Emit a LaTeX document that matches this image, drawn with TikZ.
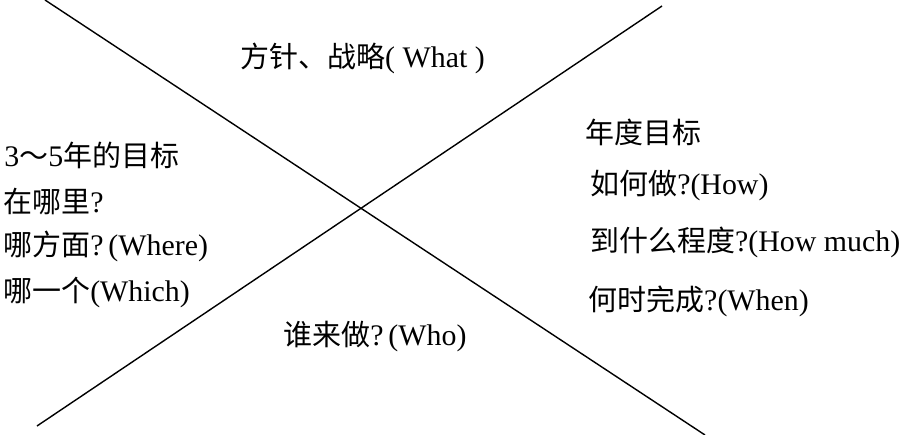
\documentclass[tikz,border=0pt]{standalone}
\usepackage{fontspec}
\setmainfont{Liberation Serif}
\newfontfamily\cjk[Scale=0.97]{Noto Sans CJK SC}
\newcommand{\zh}[1]{{\cjk #1}}
\usetikzlibrary{positioning}

\begin{document}
\begin{tikzpicture}[
  x=0.02cm, y=-0.02cm,
  font=\fontsize{17}{20}\selectfont,
  txt/.style={anchor=west,inner sep=0pt},
  cut/.style={line width=0.8pt}
]
  \useasboundingbox (0,0) rectangle (909,435);
  % the two crossing lines
  \coordinate (d1) at (45,0);
  \coordinate (d2) at (705,435);
  \coordinate (u1) at (37,426);
  \coordinate (u2) at (662,6);
  \draw[cut] (d1) -- (d2);
  \draw[cut] (u1) -- (u2);
  % top
  \node[txt] (what) at (240,58) {\zh{方针、战略}( What )};
  % left
  \node[txt] (long) at (4,155) {3\zh{～}5\zh{年的目标}};
  \node[txt] (where1) at (3,202) {\zh{在哪里}?};
  \node[txt] (where2) at (3,246) {\zh{哪方面}?\,(Where)};
  \node[txt] (which) at (3,292) {\zh{哪一个}(Which)};
  % right
  \node[txt] (year) at (585,132) {\zh{年度目标}};
  \node[txt] (how) at (590,186) {\zh{如何做}?(How)};
  \node[txt] (much) at (590,242) {\zh{到什么程度}?(How much)};
  \node[txt] (when) at (588,301) {\zh{何时完成}?(When)};
  % bottom
  \node[txt] (who) at (283,337) {\zh{谁来做}?\,(Who)};
\end{tikzpicture}
\end{document}
